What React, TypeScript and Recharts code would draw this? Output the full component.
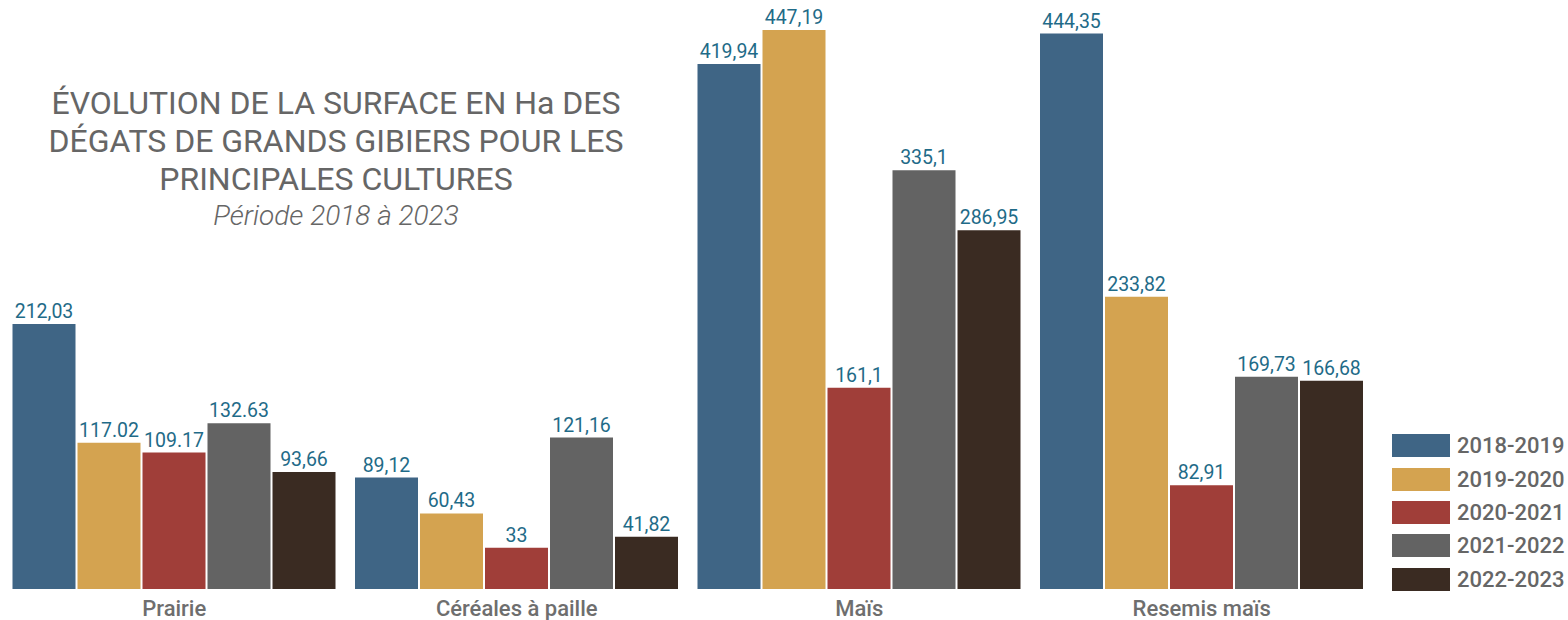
import React from "react";
import { BarChart, Bar, XAxis, YAxis, LabelList } from "recharts";

const categories = ["Prairie", "Céréales à paille", "Maïs", "Resemis maïs"];
const seriesNames = ["2018-2019", "2019-2020", "2020-2021", "2021-2022", "2022-2023"];
const s2018 = [212.03, 89.12, 419.94, 444.35];
const s2019 = [117.02, 60.43, 447.19, 233.82];
const s2020 = [109.17, 33, 161.1, 82.91];
const s2021 = [132.63, 121.16, 335.1, 169.73];
const s2022 = [93.66, 41.82, 286.95, 166.68];
const l2018 = ["212,03", "89,12", "419,94", "444,35"];
const l2019 = ["117.02", "60,43", "447,19", "233,82"];
const l2020 = ["109.17", "33", "161,1", "82,91"];
const l2021 = ["132.63", "121,16", "335,1", "169,73"];
const l2022 = ["93,66", "41,82", "286,95", "166,68"];
const colors = ["#3f6585", "#d4a350", "#a03e39", "#636363", "#3a2b22"];

const seriesValues = [s2018, s2019, s2020, s2021, s2022];
const seriesLabels = [l2018, l2019, l2020, l2021, l2022];

const data = categories.map((c, i) => {
  const row: any = { name: c };
  seriesNames.forEach((s, k) => {
    row[s] = seriesValues[k][i];
  });
  return row;
});

const FONT = "Roboto, 'Noto Sans', sans-serif";

const makeLabel = (k: number) => (props: any) => {
  const { x, y, width, index } = props;
  return (
    <text
      x={Number(x) + Number(width) / 2}
      y={Number(y) - 6}
      textAnchor="middle"
      fill="#1f6b88"
      fontSize={19.5}
      fontFamily={FONT}
    >
      {seriesLabels[k][index]}
    </text>
  );
};

const CatTick = (props: any) => {
  const { x, payload } = props;
  return (
    <text x={x} y={616} textAnchor="middle" fill="#6e6e6e" fontSize={22} fontWeight={500} fontFamily={FONT}>
      {payload.value}
    </text>
  );
};

export default function App() {
  return (
    <div style={{ position: "absolute", left: 0, top: 0, width: 1568, height: 620, fontFamily: FONT, background: "#fff", overflow: "hidden" }}>
      <BarChart
        width={1568}
        height={620}
        data={data}
        margin={{ top: 14, right: 195, bottom: 0, left: 3 }}
        barCategoryGap={9.5}
        barGap={2}
      >
        <XAxis dataKey="name" axisLine={false} tickLine={false} height={31} tick={<CatTick />} interval={0} />
        <YAxis hide domain={[0, 460]} />
        {seriesNames.map((s, k) => (
          <Bar key={s} dataKey={s} fill={colors[k]} isAnimationActive={false}>
            <LabelList dataKey={s} content={makeLabel(k)} />
          </Bar>
        ))}
      </BarChart>
      <div style={{ position: "absolute", left: 1392, top: 429, width: 176 }}>
        {seriesNames.map((s, k) => (
          <div key={s} style={{ display: "flex", alignItems: "center", height: 33.4 }}>
            <div style={{ width: 58, height: 23, background: colors[k], marginRight: 7, flexShrink: 0 }} />
            <span style={{ fontSize: 22, color: "#666666", fontWeight: 500, whiteSpace: "nowrap" }}>{s}</span>
          </div>
        ))}
      </div>
      <div
        style={{
          position: "absolute",
          left: 20,
          width: 632,
          top: 84,
          textAlign: "center",
          color: "#666666",
          fontSize: 32,
          fontWeight: 400,
          lineHeight: "38px",
        }}
      >
        ÉVOLUTION DE LA SURFACE EN Ha DES
        <br />
        DÉGATS DE GRANDS GIBIERS POUR LES
        <br />
        PRINCIPALES CULTURES
        <div style={{ fontSize: 28, fontStyle: "italic", fontWeight: 300, lineHeight: "36px" }}>
          Période 2018 à 2023
        </div>
      </div>
    </div>
  );
}
